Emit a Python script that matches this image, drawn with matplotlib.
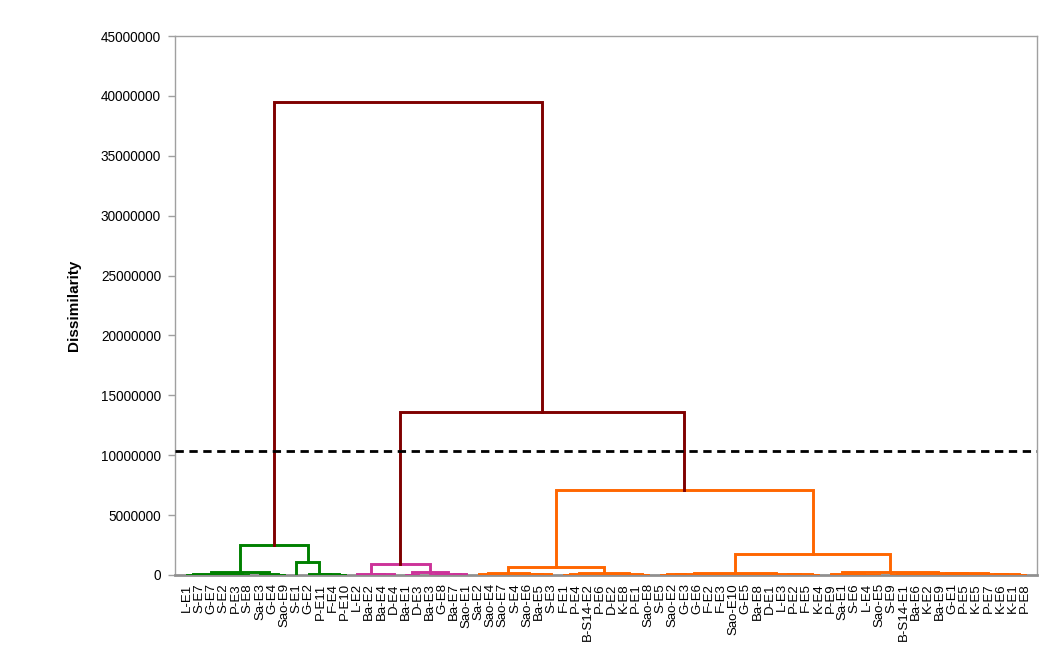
import matplotlib.pyplot as plt

plt.rcParams['font.family'] = ['Liberation Sans', 'DejaVu Sans']

# leaf labels, left to right
labels = ["L-E1", "S-E7", "G-E7", "S-E2", "P-E3", "S-E8", "Sa-E3", "G-E4", "Sao-E9", "S-E1",
          "G-E2", "P-E11", "F-E4", "P-E10", "L-E2", "Ba-E2", "Ba-E4", "D-E4", "Ba-E1", "D-E3",
          "Ba-E3", "G-E8", "Ba-E7", "Sao-E1", "Sa-E2", "Sao-E4", "Sao-E7", "S-E4", "Sao-E6", "Ba-E5",
          "S-E3", "F-E1", "P-E4", "B-S14-E2", "P-E6", "D-E2", "K-E8", "P-E1", "Sao-E8", "S-E5",
          "Sao-E2", "G-E3", "G-E6", "F-E2", "F-E3", "Sao-E10", "G-E5", "Ba-E8", "D-E1", "L-E3",
          "P-E2", "F-E5", "K-E4", "P-E9", "Sa-E1", "S-E6", "L-E4", "Sao-E5", "S-E9", "B-S14-E1",
          "Ba-E6", "K-E2", "Ba-E9", "G-E1", "P-E5", "K-E5", "P-E7", "K-E6", "K-E1", "P-E8"]

# merges as [left, right, height in millions]; ints are leaf indices
green = [[[[0, 1, 0.03], [[2, 3, 0.02], [4, 5, 0.04], 0.08], 0.12],
          [6, [7, 8, 0.03], 0.06], 0.22],
         [9, [[[12, 13, 0.02], 11, 0.05], 10, 0.09], 1.08], 2.5]

magenta = [[14, [[15, 16, 0.03], 17, 0.06], 0.1],
           [[18, 19, 0.04], [[20, 21, 0.03], [22, 23, 0.05], 0.1], 0.22], 0.89]

orange_left = [[[24, [25, 26, 0.03], 0.07], [27, [[28, 29, 0.02], 30, 0.05], 0.08], 0.15],
               [[[31, 32, 0.03], 33, 0.06], [[[34, 35, 0.02], 36, 0.05], [37, 38, 0.04], 0.09], 0.2],
               0.64]
orange_right_a = [[[[39, 40, 0.02], 41, 0.05], [[42, 43, 0.03], 44, 0.06], 0.09],
                  [[[45, 46, 0.02], [47, 48, 0.03], 0.06], [[49, 50, 0.02], [51, 52, 0.04], 0.07], 0.1],
                  0.13]
orange_right_b = [[53, [54, [55, [56, 57, 0.02], 0.04], 0.06], 0.08],
                  [[[58, 59, 0.02], [60, 61, 0.03], 0.06],
                   [[62, 63, 0.03], [[64, 65, 0.02], [[66, 67, 0.02], [68, 69, 0.03], 0.05], 0.08], 0.15],
                   0.2], 0.28]
orange = [orange_left, [orange_right_a, orange_right_b, 1.75], 7.1]

top_heights = [13.6, 39.45]   # magenta+orange, then everything
cut = 10.35

dark_red = "#7f0000"
cluster_colors = ["#008000", "#cc3399", "#ff6600"]


def link(ax, x1, h1, x2, h2, h, color):
    ax.plot([x1, x1, x2, x2], [h1 * 1e6, h * 1e6, h * 1e6, h2 * 1e6], color=color, lw=2.1,
            solid_joinstyle="miter", zorder=3)


def draw(ax, node, color):
    if isinstance(node, int):
        return node, 0
    left, right, h = node
    x1, h1 = draw(ax, left, color)
    x2, h2 = draw(ax, right, color)
    link(ax, x1, h1, x2, h2, h, color)
    return (x1 + x2) / 2, h


fig = plt.figure(figsize=(10.57, 6.56), dpi=100)
ax = fig.add_axes([175 / 1057, 1 - 575 / 656, 862 / 1057, 539 / 656])

gx, gh = draw(ax, green, cluster_colors[0])
mx, mh = draw(ax, magenta, cluster_colors[1])
ox, oh = draw(ax, orange, cluster_colors[2])

link(ax, mx, mh, ox, oh, top_heights[0], dark_red)
link(ax, gx, gh, (mx + ox) / 2, top_heights[0], top_heights[1], dark_red)

ax.axhline(cut * 1e6, color="black", lw=2, ls=(0, (3, 2)), zorder=4)

ax.set_xlim(-1, 70)
ax.set_ylim(0, 45000000)
ax.set_yticks(range(0, 45000001, 5000000))
ax.ticklabel_format(style="plain", axis="y", useOffset=False)
ax.set_xticks(range(len(labels)))
ax.set_xticklabels(labels, rotation=90, fontsize=9.5)
ax.tick_params(axis="x", length=0, pad=6)
ax.tick_params(axis="y", length=5, width=1, color="#a0a0a0", labelsize=9.8, pad=5)

for side in ["left", "right", "top"]:
    ax.spines[side].set_color("#a0a0a0")
    ax.spines[side].set_linewidth(1)
ax.spines["bottom"].set_color("#909090")
ax.spines["bottom"].set_linewidth(2)

ax.set_ylabel("Dissimilarity", fontsize=11, fontweight="bold", labelpad=14)

fig.savefig("out.png", dpi=100)
